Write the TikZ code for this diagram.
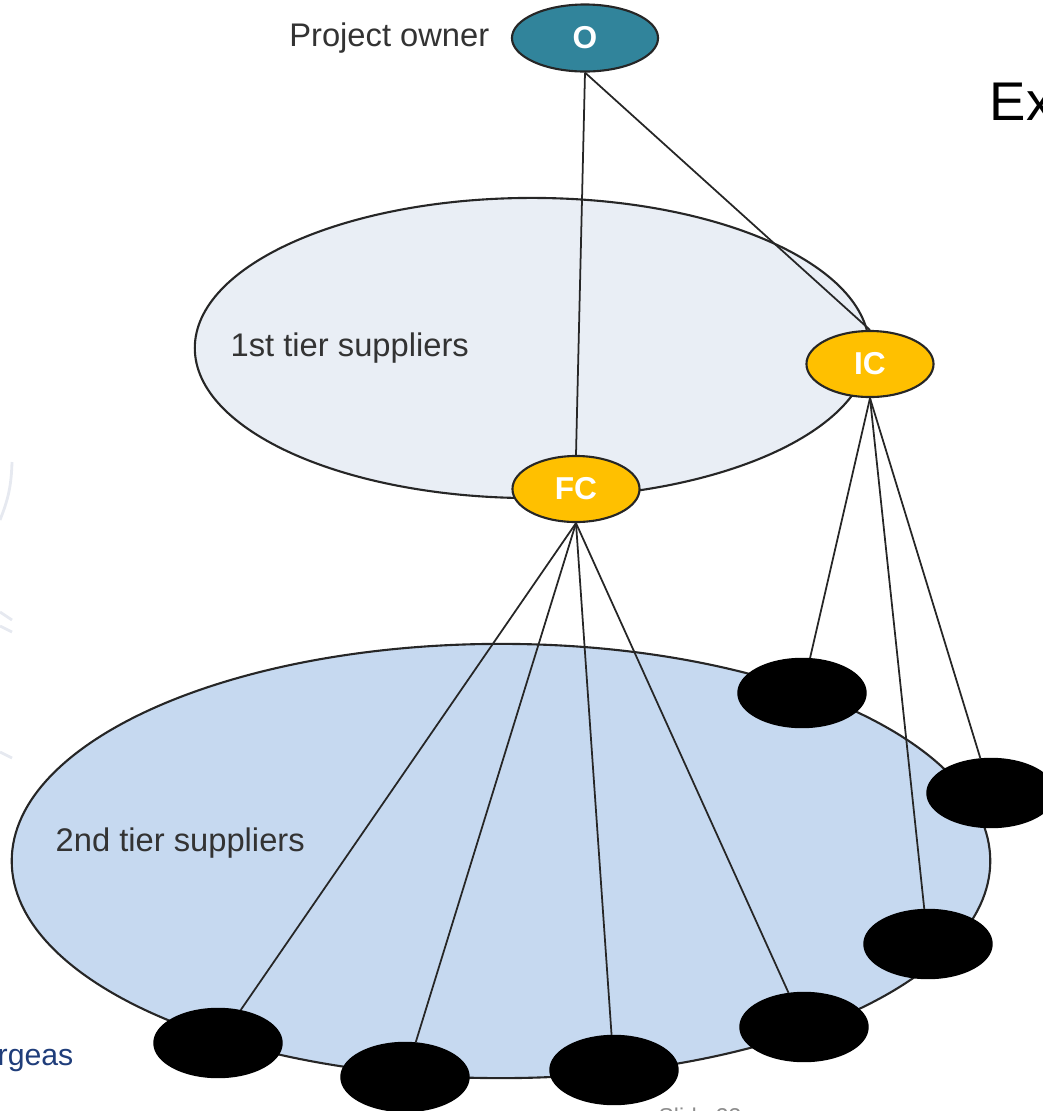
\documentclass[tikz,border=0pt]{standalone}
\usepackage{fontspec}
\setmainfont{Liberation Sans}
\usetikzlibrary{shapes.geometric}
\definecolor{ownerteal}{HTML}{31849B}
\definecolor{tierorange}{HTML}{FFC000}
\definecolor{firstfill}{HTML}{E9EEF5}
\definecolor{secondfill}{HTML}{C6D9F0}
\definecolor{labelgray}{HTML}{333333}
\definecolor{footblue}{HTML}{1F3D7A}
\definecolor{faint}{HTML}{E6E9F0}
\tikzset{
  tier/.style={ellipse,draw=black!85,line width=0.6pt,inner sep=0pt},
  party/.style={ellipse,draw=black!85,line width=0.6pt,inner sep=0pt,
    minimum width=1.27cm,minimum height=0.66cm,text=white,
    font=\fontsize{9}{11}\selectfont\bfseries},
  sub/.style={ellipse,fill=black,draw=black,inner sep=0pt,
    minimum width=1.28cm,minimum height=0.69cm},
  link/.style={draw=black!85,line width=0.5pt},
  lab/.style={inner sep=0pt,text=labelgray,font=\fontsize{9.3}{11}\selectfont}
}
\begin{document}
\begin{tikzpicture}[x=0.01cm,y=-0.01cm]
\useasboundingbox (0,0) rectangle (1043,1111);
\clip (0,0) rectangle (1043,1111);
% faint backdrop strokes
\draw[faint,line width=0.8pt] (12,462) to[bend left=10] (0,520);
\draw[faint,line width=0.8pt] (0,612) -- (12,620);
\draw[faint,line width=0.8pt] (0,626) -- (12,632);
\draw[faint,line width=0.8pt] (0,752) -- (12,758);
% the two tiers
\node[tier,fill=firstfill,minimum width=6.74cm,minimum height=3.0cm] (tier1) at (532,348) {};
\node[tier,fill=secondfill,minimum width=9.78cm,minimum height=4.34cm] (tier2) at (501,861) {};
\node[lab,anchor=west] (tier1lab) at (230,348) {1st tier suppliers};
\node[lab,anchor=west] (tier2lab) at (55,843) {2nd tier suppliers};
% owner and contractors
\node[lab,anchor=east] (ownerlab) at (490,38) {Project owner};
\node[party,fill=ownerteal,minimum width=1.46cm,minimum height=0.67cm] (O) at (585,38) {O};
\node[party,fill=tierorange] (IC) at (870,364) {IC};
\node[party,fill=tierorange] (FC) at (576,489) {FC};
% subcontractors
\foreach \n/\x/\y in {1/218/1043,2/405/1077,3/614/1070,4/804/1027,
                      5/802/693,6/991/793,7/928/944}
  \node[sub] (B\n) at (\x,\y) {};
% links
\draw[link] (O.south) -- (FC.north);
\draw[link] (O.south) -- (IC.north);
\foreach \n in {1,...,4} \draw[link] (FC.south) -- (B\n);
\foreach \n in {5,6,7} \draw[link] (IC.south) -- (B\n);
% slide furniture
\node[anchor=west,inner sep=0pt,font=\fontsize{15.5}{18}\selectfont] (extitle) at (989,102) {Ex};
\node[anchor=base west,inner sep=0pt,text=footblue,font=\fontsize{8.6}{10}\selectfont] (foot) at (-3,1065) {rgeas};
\node[anchor=base west,inner sep=0pt,text=black!45,font=\fontsize{6.5}{8}\selectfont] (slideno) at (658,1124) {Slide 23};
\end{tikzpicture}
\end{document}
